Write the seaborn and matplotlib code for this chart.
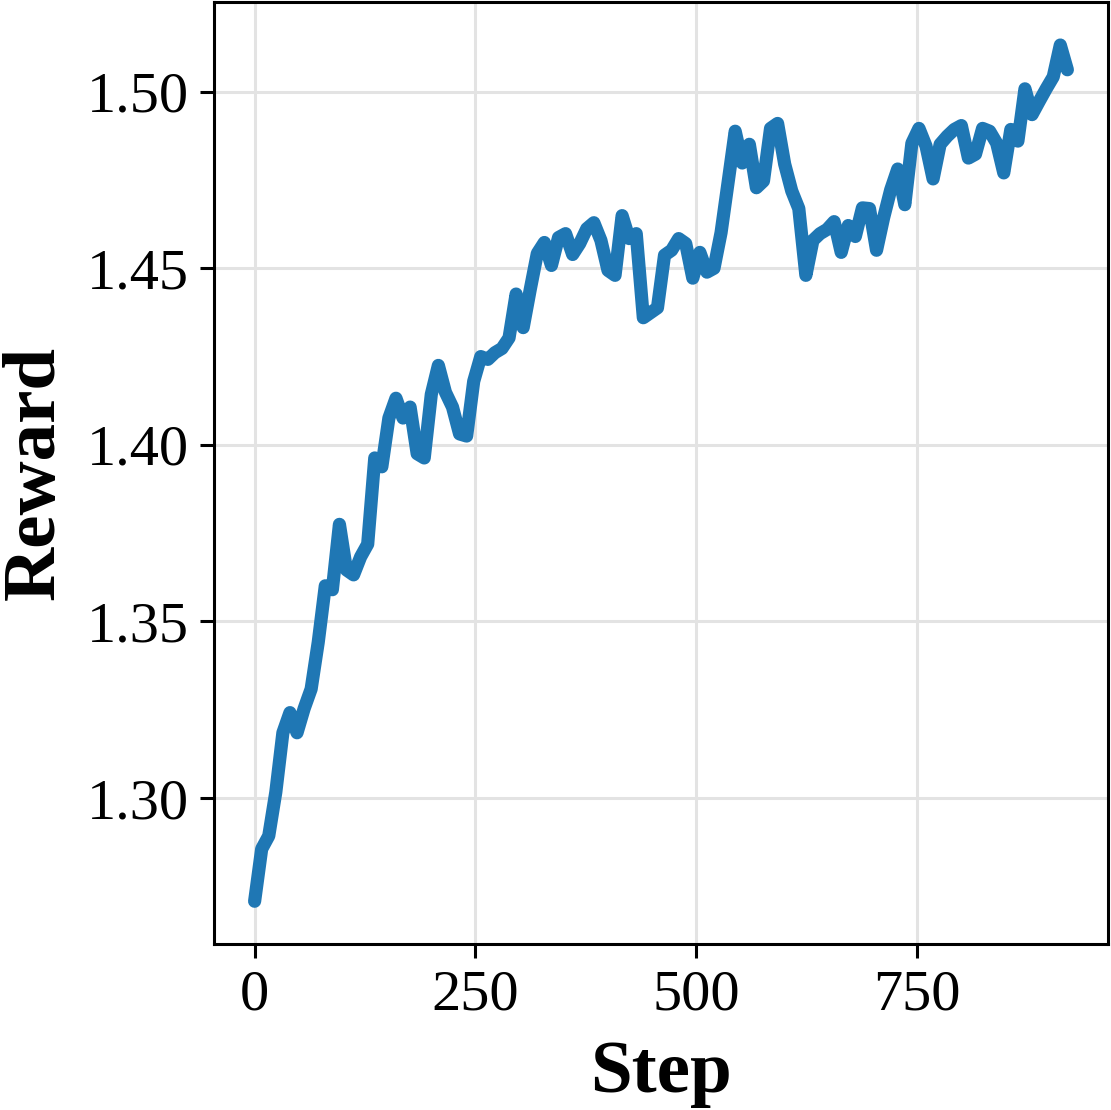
import numpy as np
import pandas as pd
import matplotlib
matplotlib.use("Agg")
import matplotlib.pyplot as plt
import seaborn as sns

# reward logged every 8 steps
steps = list(range(0, 921, 8))
reward = [
    1.2708, 1.2856, 1.2893, 1.3017, 1.3185, 1.3242, 1.3185, 1.3253, 1.3309, 1.3441,
    1.3601, 1.3590, 1.3775, 1.3646, 1.3632, 1.3683, 1.3719, 1.3963, 1.3938, 1.4076,
    1.4132, 1.4076, 1.4107, 1.3975, 1.3963, 1.4143, 1.4225, 1.4149, 1.4107, 1.4031,
    1.4025, 1.4180, 1.4250, 1.4242, 1.4261, 1.4273, 1.4303, 1.4427, 1.4332, 1.4440,
    1.4542, 1.4573, 1.4508, 1.4587, 1.4598, 1.4539, 1.4570, 1.4612, 1.4629, 1.4579,
    1.4494, 1.4480, 1.4649, 1.4584, 1.4598, 1.4360, 1.4374, 1.4388, 1.4537, 1.4551,
    1.4584, 1.4570, 1.4472, 1.4545, 1.4489, 1.4500, 1.4601, 1.4744, 1.4888, 1.4798,
    1.4851, 1.4728, 1.4747, 1.4896, 1.4910, 1.4795, 1.4719, 1.4669, 1.4480, 1.4579,
    1.4598, 1.4610, 1.4632, 1.4545, 1.4621, 1.4590, 1.4671, 1.4669, 1.4551, 1.4643,
    1.4722, 1.4781, 1.4680, 1.4854, 1.4896, 1.4846, 1.4753, 1.4851, 1.4874, 1.4893,
    1.4904, 1.4812, 1.4823, 1.4896, 1.4888, 1.4854, 1.4770, 1.4893, 1.4860, 1.5008,
    1.4935, 1.4972, 1.5008, 1.5042, 1.5132, 1.5062,
]
x_ticks = [0, 250, 500, 750]
y_ticks = [1.30, 1.35, 1.40, 1.45, 1.50]

df = pd.DataFrame({'Step': steps, 'Reward': reward})

sns.set_style('ticks')
plt.rcParams['font.family'] = ['Liberation Serif', 'DejaVu Serif']

fig = plt.figure(figsize=(11.11, 11.10), dpi=100)
ax = fig.add_axes([0.1926, 0.1495, 0.8047, 0.8485])

sns.lineplot(data=df, x='Step', y='Reward', color='#1f77b4', linewidth=9.5, ax=ax)

ax.set_xticks(x_ticks)
ax.set_yticks(y_ticks)
ax.yaxis.set_major_formatter(matplotlib.ticker.FormatStrFormatter('%.2f'))
ax.grid(True, color='#e3e3e3', linewidth=2.2)
ax.set_axisbelow(True)

for s in ax.spines.values():
    s.set_linewidth(2.2)
    s.set_color('black')
ax.tick_params(axis='both', direction='out', length=10, width=2.2,
               labelsize=42, colors='black', pad=8)

ax.set_xlabel('Step', fontsize=54, fontweight='bold', labelpad=14, color='black')
ax.set_ylabel('Reward', fontsize=54, fontweight='bold', labelpad=12, color='black')

fig.savefig('out.png', dpi=100)
